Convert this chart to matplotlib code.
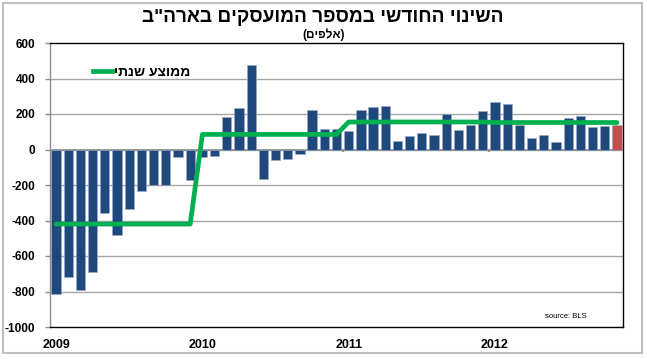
import matplotlib
matplotlib.use("Agg")
import matplotlib.pyplot as plt
from matplotlib.lines import Line2D
from matplotlib.patches import Rectangle
import numpy as np

plt.rcParams['font.family'] = ['Liberation Sans', 'DejaVu Sans']

# ---- data (thousands) ----
years = ["2009", "2010", "2011", "2012"]
v2009 = [-815, -718, -792, -690, -357, -479, -338, -235, -200, -202, -42, -171]
v2010 = [-42, -38, 185, 236, 474, -168, -60, -55, -28, 221, 117, 117]
v2011 = [106, 221, 242, 247, 49, 77, 95, 81, 198, 109, 138, 219]
v2012 = [270, 255, 138, 66, 83, 40, 179, 188, 128, 134, 140]
annual_avg = [-420, 85, 155, 152]

title_text = 'השינוי החודשי במספר המועסקים בארה"ב'
subtitle_text = 'אלפים'
legend_text = 'ממוצע שנתי'
source_text = 'source: BLS'
yticks = [-1000, -800, -600, -400, -200, 0, 200, 400, 600]

def vis(s):
    return s[::-1]

monthly = [v2009, v2010, v2011, v2012]
values = np.concatenate([np.array(v) for v in monthly])
avg_line = np.concatenate([[a] * len(v) for a, v in zip(annual_avg, monthly)])
x = np.arange(len(values))
year_starts = np.cumsum([0] + [len(v) for v in monthly[:-1]])

navy = '#1F497D'
red = '#C0504D'
green = '#00B050'

fig = plt.figure(figsize=(6.47, 3.59), dpi=100)
ax = fig.add_axes([50/647, 1-327/359, 573/647, 284/359])

colors = [navy] * (len(values) - 1) + [red]
ax.bar(x, values, width=0.76, color=colors, edgecolor='#9AAAC4', linewidth=0.4, zorder=3)
ax.plot(x, avg_line, color=green, lw=3.4, zorder=4, solid_capstyle='round')

ax.set_xlim(-0.5, len(values) - 0.5)
ax.set_ylim(-1000, 600)
ax.set_yticks(yticks)
ax.set_yticklabels([str(t) for t in yticks], fontsize=8.5, fontweight='bold')
for t in yticks:
    if t not in (-1000, 600):
        ax.axhline(t, color='#A6A6A6', lw=1.0, zorder=1)
ax.axhline(0, color='#8C8C8C', lw=1.2, zorder=2)
# year-boundary ticks on the zero line
bounds = year_starts[1:] - 0.5
ax.vlines(bounds, -15, 0, color='#8C8C8C', lw=1.2, zorder=2)

ax.set_xticks(year_starts)
ax.set_xticklabels(years, fontsize=9, fontweight='bold')
ax.tick_params(axis='x', length=0, pad=9)
ax.tick_params(axis='y', length=3.5, width=1, color='#8C8C8C', pad=7)

for s in ['top', 'right', 'bottom']:
    ax.spines[s].set_color('black')
    ax.spines[s].set_linewidth(1.0)
ax.spines['left'].set_color('#8C8C8C')
ax.spines['left'].set_linewidth(1.0)

# legend
h = Line2D([0], [0], color=green, lw=3.4)
leg = ax.legend([h], [vis(legend_text)], loc='center left',
                bbox_to_anchor=((93-50)/573, (327-72)/284), frameon=False,
                handlelength=1.4, handletextpad=0.1, borderpad=0, borderaxespad=0,
                prop={'weight': 'bold', 'size': 10})

ax.text((587-50)/573, (327-317)/284, source_text, transform=ax.transAxes, fontsize=5.5,
        ha='right', va='center', color='black')

fig.text(323/647, 1-18/359, vis(title_text), ha='center', va='center',
         fontsize=13.8, fontweight='bold')
fig.text(323.5/647, 1-35/359, '(' + vis(subtitle_text) + ')', ha='center', va='center',
         fontsize=8.5, fontweight='bold')

fig.patches.append(Rectangle((2.7/647, 1-353/359), (641.7-2.7)/647, (353-3)/359,
                             transform=fig.transFigure, fill=False,
                             edgecolor='#BFBFBF', lw=1.5))

fig.savefig('out.png', dpi=100)
